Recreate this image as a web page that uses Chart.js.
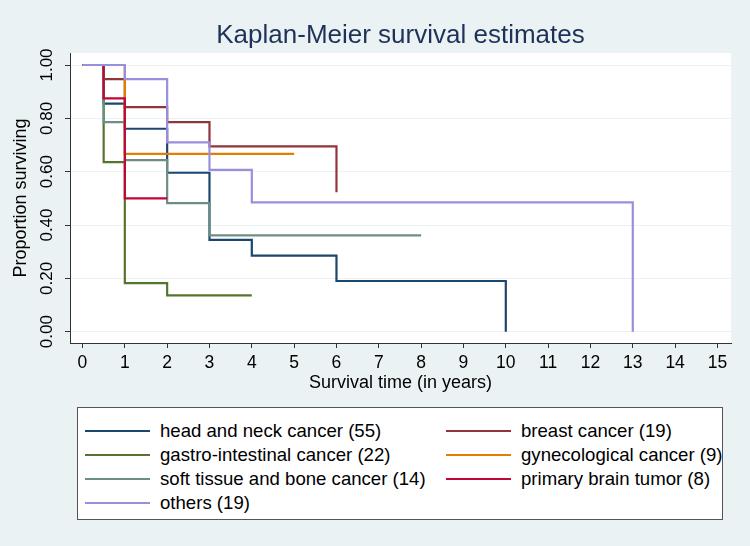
<!DOCTYPE html>
<html>
<head>
<meta charset="utf-8">
<script src="https://cdn.jsdelivr.net/npm/chart.js@4"></script>
<style>
  html, body { margin: 0; padding: 0; background: #eaf2f3; }
  #wrap { position: relative; width: 750px; height: 546px; overflow: hidden; font-family: "Liberation Sans", Arial, sans-serif; }
  #c { position: absolute; left: 0; top: 0; }
  #title { position: absolute; left: 70px; width: 661px; top: 19px; text-align: center; font-size: 26px; color: #1e3259; white-space: nowrap; }
  #legend { position: absolute; left: 77px; top: 407px; width: 646px; height: 113px; background: #fff; border: 1px solid #555; box-sizing: border-box; }
  .item { position: absolute; height: 24px; line-height: 24px; font-size: 18.6px; color: #000; white-space: nowrap; }
  .item .sw { position: absolute; left: 0; top: 11px; width: 65px; height: 2px; }
  .item .tx { position: absolute; left: 75px; top: 0; }
</style>
</head>
<body>
<div id="wrap">
  <canvas id="c" width="750" height="546"></canvas>
  <div id="title">Kaplan-Meier survival estimates</div>
  <div id="legend"></div>
</div>
<script>
// ---- data ----
const xTickValues = [0,1,2,3,4,5,6,7,8,9,10,11,12,13,14,15];
const yTickValues = [0, 0.2, 0.4, 0.6, 0.8, 1.0];

const seriesNames = [
  "head and neck cancer (55)",
  "breast cancer (19)",
  "gastro-intestinal cancer (22)",
  "gynecological cancer (9)",
  "soft tissue and bone cancer (14)",
  "primary brain tumor (8)",
  "others (19)"
];
const seriesColors = ["#1a476f", "#90353b", "#55752f", "#e37e00", "#6e8e84", "#c10534", "#9a8fdc"];

const headNeckTime = [0, 0.5, 1, 2, 3, 4, 6, 10];
const headNeckSurv = [1, 0.855, 0.761, 0.596, 0.344, 0.285, 0.190, 0];

const breastTime = [0, 0.5, 1, 2, 3, 6];
const breastSurv = [1, 0.947, 0.842, 0.786, 0.695, 0.523];

const gastroTime = [0, 0.5, 1, 2, 4];
const gastroSurv = [1, 0.636, 0.182, 0.136, 0.136];

const gynTime = [0, 1, 5];
const gynSurv = [1, 0.667, 0.667];

const softTime = [0, 0.5, 1, 2, 3, 8];
const softSurv = [1, 0.786, 0.643, 0.482, 0.361, 0.361];

const brainTime = [0, 0.5, 1, 2];
const brainSurv = [1, 0.875, 0.5, 0.5];

const othersTime = [0, 1, 2, 3, 4, 13];
const othersSurv = [1, 0.947, 0.710, 0.607, 0.485, 0];

const allTimes = [headNeckTime, breastTime, gastroTime, gynTime, softTime, brainTime, othersTime];
const allSurv  = [headNeckSurv, breastSurv, gastroSurv, gynSurv, softSurv, brainSurv, othersSurv];

// ---- build datasets ----
const datasets = seriesNames.map((name, i) => ({
  label: name,
  data: allTimes[i].map((t, k) => ({ x: t, y: allSurv[i][k] })),
  borderColor: seriesColors[i],
  backgroundColor: seriesColors[i],
  borderWidth: 2.2,
  pointRadius: 0,
  fill: false,
  stepped: true,
  order: seriesNames.length - i
}));

const FONT = "'Liberation Sans', Arial, sans-serif";

const plotBg = {
  id: 'plotBg',
  beforeDraw(chart) {
    const { ctx, chartArea: a } = chart;
    ctx.save();
    ctx.fillStyle = '#ffffff';
    ctx.fillRect(a.left, a.top, a.right - a.left, a.bottom - a.top);
    ctx.restore();
  }
};

const yLabels = {
  id: 'yLabels',
  afterDraw(chart) {
    const { ctx } = chart;
    const ys = chart.scales.y;
    ctx.save();
    ctx.fillStyle = '#000';
    ctx.font = "17px " + FONT;
    ctx.textAlign = 'center';
    ctx.textBaseline = 'middle';
    ys.ticks.forEach(t => {
      const py = ys.getPixelForValue(t.value);
      ctx.save();
      ctx.translate(47, py);
      ctx.rotate(-Math.PI / 2);
      ctx.fillText(t.value.toFixed(2), 0, 0);
      ctx.restore();
    });
    ctx.restore();
  }
};

new Chart(document.getElementById('c'), {
  type: 'line',
  data: { datasets },
  options: {
    responsive: false,
    animation: false,
    layout: { padding: { top: 53, right: 19, bottom: 143, left: 0 } },
    plugins: { legend: { display: false }, title: { display: false }, tooltip: { enabled: false } },
    scales: {
      x: {
        type: 'linear',
        min: -0.295,
        max: 15.32,
        afterBuildTicks(s) { s.ticks = xTickValues.map(v => ({ value: v })); },
        afterFit(s) { s.height = 60; },
        ticks: { color: '#000', font: { family: FONT, size: 17.5 }, padding: 5, autoSkip: false, maxRotation: 0, callback: v => String(v) },
        grid: { drawOnChartArea: false, drawTicks: true, tickLength: 5, tickColor: '#333', tickWidth: 1 },
        border: { display: true, color: '#333', width: 1 },
        title: { display: true, text: 'Survival time (in years)', color: '#000', font: { family: FONT, size: 18 }, padding: { top: 0, bottom: 9 } }
      },
      y: {
        type: 'linear',
        min: -0.0424,
        max: 1.045,
        afterBuildTicks(s) { s.ticks = yTickValues.map(v => ({ value: v })); },
        afterFit(s) { s.width = 70; },
        ticks: { display: false },
        grid: { drawOnChartArea: true, color: '#eaf2f3', lineWidth: 1, drawTicks: true, tickLength: 5, tickColor: '#333', tickWidth: 1 },
        border: { display: true, color: '#333', width: 1 },
        title: { display: true, text: 'Proportion surviving', color: '#000', font: { family: FONT, size: 18 }, padding: { top: 10, bottom: 0 } }
      }
    }
  },
  plugins: [plotBg, yLabels]
});

// ---- legend (two columns, row-major) ----
const legend = document.getElementById('legend');
const rowTop = [11, 35, 59, 83];
const colLeft = [7, 368];
seriesNames.forEach((name, i) => {
  const row = Math.floor(i / 2), col = i % 2;
  const d = document.createElement('div');
  d.className = 'item';
  d.style.left = colLeft[col] + 'px';
  d.style.top = rowTop[row] + 'px';
  d.innerHTML = '<span class="sw" style="background:' + seriesColors[i] + '"></span><span class="tx"></span>';
  d.querySelector('.tx').textContent = name;
  legend.appendChild(d);
});
</script>
</body>
</html>
